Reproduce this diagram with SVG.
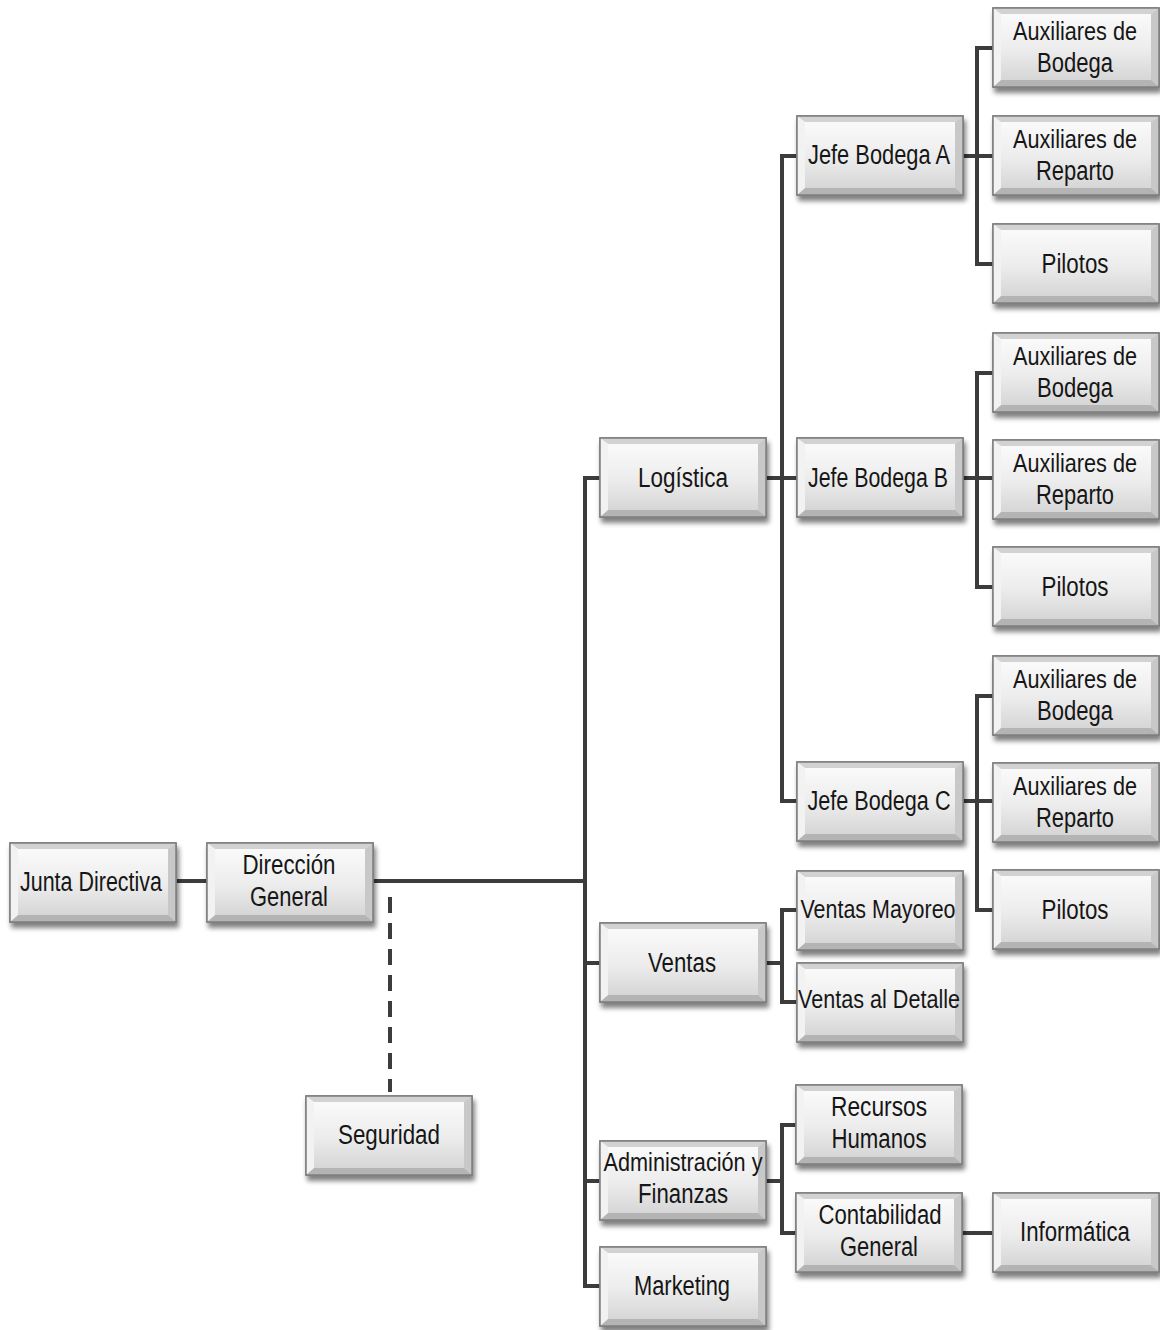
<svg xmlns="http://www.w3.org/2000/svg" xmlns:xlink="http://www.w3.org/1999/xlink" width="1160" height="1330" viewBox="0 0 1160 1330">
<style>
.t{font-family:"Liberation Sans Narrow","Liberation Sans",Arial,sans-serif;font-size:27px;fill:#161616;text-anchor:middle}
.s{font-size:25px}
.c{fill:none;stroke:#3c3c3c;stroke-width:4;stroke-linejoin:miter}
</style>
<defs>
<linearGradient id="gEdge" x1="0" y1="0" x2="0" y2="1"><stop offset="0" stop-color="#ebebeb"/><stop offset="1" stop-color="#bdbdbd"/></linearGradient>
<linearGradient id="gFace" x1="0" y1="0" x2="0" y2="1"><stop offset="0" stop-color="#fafafa"/><stop offset="0.55" stop-color="#ececec"/><stop offset="1" stop-color="#d6d6d6"/></linearGradient>
<filter id="sh" x="-10%" y="-10%" width="125%" height="135%"><feGaussianBlur in="SourceAlpha" stdDeviation="2.5"/><feOffset dx="2" dy="5"/><feComponentTransfer><feFuncA type="linear" slope="0.5"/></feComponentTransfer><feMerge><feMergeNode/><feMergeNode in="SourceGraphic"/></feMerge></filter>
<g id="box">
<rect x="0" y="0" width="166" height="79" fill="url(#gEdge)" stroke="#7e7e7e" stroke-width="1.5"/>
<polygon points="0,0 166,0 158,6 8,6" fill="#d2d2d2"/>
<polygon points="0,79 166,79 158,72 8,72" fill="#b4b4b4"/>
<polygon points="0,0 8,6 8,72 0,79" fill="#f2f2f2"/>
<polygon points="166,0 158,6 158,72 166,79" fill="#c8c8c8"/>
<rect x="8" y="6" width="150" height="66" fill="url(#gFace)"/>
<rect x="0" y="0" width="166" height="79" fill="none" stroke="#7e7e7e" stroke-width="1.5"/>
</g>
</defs>
<rect width="1160" height="1330" fill="#ffffff"/>
<g id="connectors">
<line class="c" x1="176" y1="881" x2="207" y2="881" stroke-width="5"/>
<line class="c" x1="373" y1="881" x2="587" y2="881" stroke-width="5"/>
<line class="c" x1="390" y1="897" x2="390" y2="1092" stroke-width="3" stroke-dasharray="16 10"/>
<path class="c" d="M600,478 H585 V1286 H600 M585,963 H600 M585,1181 H600"/>
<path class="c" d="M766,478 H797 M797,156 H782 V801 H797"/>
<path class="c" d="M962,156 H993 M993,48 H977 V264 H993"/>
<path class="c" d="M962,478 H993 M993,373 H977 V587 H993"/>
<path class="c" d="M962,801 H993 M993,696 H977 V910 H993"/>
<path class="c" d="M766,963 H782 M797,910 H782 V1002 H797"/>
<path class="c" d="M766,1181 H782 M796,1125 H782 V1233 H796"/>
<line class="c" x1="962" y1="1233" x2="993" y2="1233"/>
</g>
<g id="junta"><use xlink:href="#box" x="10" y="843" filter="url(#sh)"/><text class="t" x="91" y="891" textLength="142" lengthAdjust="spacingAndGlyphs">Junta Directiva</text></g>
<g id="direccion"><use xlink:href="#box" x="207" y="843" filter="url(#sh)"/><text class="t" x="289" y="874" textLength="93" lengthAdjust="spacingAndGlyphs">Dirección</text><text class="t" x="289" y="906" textLength="78" lengthAdjust="spacingAndGlyphs">General</text></g>
<g id="seguridad"><use xlink:href="#box" x="306" y="1096" filter="url(#sh)"/><text class="t" x="389" y="1144" textLength="102" lengthAdjust="spacingAndGlyphs">Seguridad</text></g>
<g id="logistica"><use xlink:href="#box" x="600" y="438" filter="url(#sh)"/><text class="t" x="683" y="487" textLength="90" lengthAdjust="spacingAndGlyphs">Logística</text></g>
<g id="ventas"><use xlink:href="#box" x="600" y="923" filter="url(#sh)"/><text class="t" x="682" y="972" textLength="68" lengthAdjust="spacingAndGlyphs">Ventas</text></g>
<g id="admin"><use xlink:href="#box" x="600" y="1141" filter="url(#sh)"/><text class="t s" x="683" y="1171" textLength="159" lengthAdjust="spacingAndGlyphs">Administración y</text><text class="t" x="683" y="1203" textLength="90" lengthAdjust="spacingAndGlyphs">Finanzas</text></g>
<g id="marketing"><use xlink:href="#box" x="600" y="1247" filter="url(#sh)"/><text class="t" x="682" y="1295" textLength="96" lengthAdjust="spacingAndGlyphs">Marketing</text></g>
<g id="jefeA"><use xlink:href="#box" x="797" y="116" filter="url(#sh)"/><text class="t" x="879" y="164" textLength="142" lengthAdjust="spacingAndGlyphs">Jefe Bodega A</text></g>
<g id="jefeB"><use xlink:href="#box" x="797" y="438" filter="url(#sh)"/><text class="t" x="878" y="487" textLength="140" lengthAdjust="spacingAndGlyphs">Jefe Bodega B</text></g>
<g id="jefeC"><use xlink:href="#box" x="797" y="762" filter="url(#sh)"/><text class="t" x="879" y="810" textLength="143" lengthAdjust="spacingAndGlyphs">Jefe Bodega C</text></g>
<g id="ventasMayoreo"><use xlink:href="#box" x="797" y="871" filter="url(#sh)"/><text class="t s" x="878" y="918" textLength="155" lengthAdjust="spacingAndGlyphs">Ventas Mayoreo</text></g>
<g id="ventasDetalle"><use xlink:href="#box" x="797" y="963" filter="url(#sh)"/><text class="t s" x="879" y="1008" textLength="162" lengthAdjust="spacingAndGlyphs">Ventas al Detalle</text></g>
<g id="rrhh"><use xlink:href="#box" x="796" y="1085" filter="url(#sh)"/><text class="t" x="879" y="1116" textLength="96" lengthAdjust="spacingAndGlyphs">Recursos</text><text class="t" x="879" y="1148" textLength="95" lengthAdjust="spacingAndGlyphs">Humanos</text></g>
<g id="contabilidad"><use xlink:href="#box" x="796" y="1193" filter="url(#sh)"/><text class="t" x="880" y="1224" textLength="123" lengthAdjust="spacingAndGlyphs">Contabilidad</text><text class="t" x="879" y="1256" textLength="78" lengthAdjust="spacingAndGlyphs">General</text></g>
<g id="informatica"><use xlink:href="#box" x="993" y="1193" filter="url(#sh)"/><text class="t" x="1075" y="1241" textLength="110" lengthAdjust="spacingAndGlyphs">Informática</text></g>
<g id="auxBodegaA"><use xlink:href="#box" x="993" y="8" filter="url(#sh)"/><text class="t s" x="1075" y="40" textLength="124" lengthAdjust="spacingAndGlyphs">Auxiliares de</text><text class="t" x="1075" y="72" textLength="76" lengthAdjust="spacingAndGlyphs">Bodega</text></g>
<g id="auxRepartoA"><use xlink:href="#box" x="993" y="116" filter="url(#sh)"/><text class="t s" x="1075" y="148" textLength="124" lengthAdjust="spacingAndGlyphs">Auxiliares de</text><text class="t" x="1075" y="180" textLength="78" lengthAdjust="spacingAndGlyphs">Reparto</text></g>
<g id="pilotosA"><use xlink:href="#box" x="993" y="224" filter="url(#sh)"/><text class="t" x="1075" y="273" textLength="67" lengthAdjust="spacingAndGlyphs">Pilotos</text></g>
<g id="auxBodegaB"><use xlink:href="#box" x="993" y="333" filter="url(#sh)"/><text class="t s" x="1075" y="365" textLength="124" lengthAdjust="spacingAndGlyphs">Auxiliares de</text><text class="t" x="1075" y="397" textLength="76" lengthAdjust="spacingAndGlyphs">Bodega</text></g>
<g id="auxRepartoB"><use xlink:href="#box" x="993" y="440" filter="url(#sh)"/><text class="t s" x="1075" y="472" textLength="124" lengthAdjust="spacingAndGlyphs">Auxiliares de</text><text class="t" x="1075" y="504" textLength="78" lengthAdjust="spacingAndGlyphs">Reparto</text></g>
<g id="pilotosB"><use xlink:href="#box" x="993" y="547" filter="url(#sh)"/><text class="t" x="1075" y="596" textLength="67" lengthAdjust="spacingAndGlyphs">Pilotos</text></g>
<g id="auxBodegaC"><use xlink:href="#box" x="993" y="656" filter="url(#sh)"/><text class="t s" x="1075" y="688" textLength="124" lengthAdjust="spacingAndGlyphs">Auxiliares de</text><text class="t" x="1075" y="720" textLength="76" lengthAdjust="spacingAndGlyphs">Bodega</text></g>
<g id="auxRepartoC"><use xlink:href="#box" x="993" y="763" filter="url(#sh)"/><text class="t s" x="1075" y="795" textLength="124" lengthAdjust="spacingAndGlyphs">Auxiliares de</text><text class="t" x="1075" y="827" textLength="78" lengthAdjust="spacingAndGlyphs">Reparto</text></g>
<g id="pilotosC"><use xlink:href="#box" x="993" y="870" filter="url(#sh)"/><text class="t" x="1075" y="919" textLength="67" lengthAdjust="spacingAndGlyphs">Pilotos</text></g>
</svg>
